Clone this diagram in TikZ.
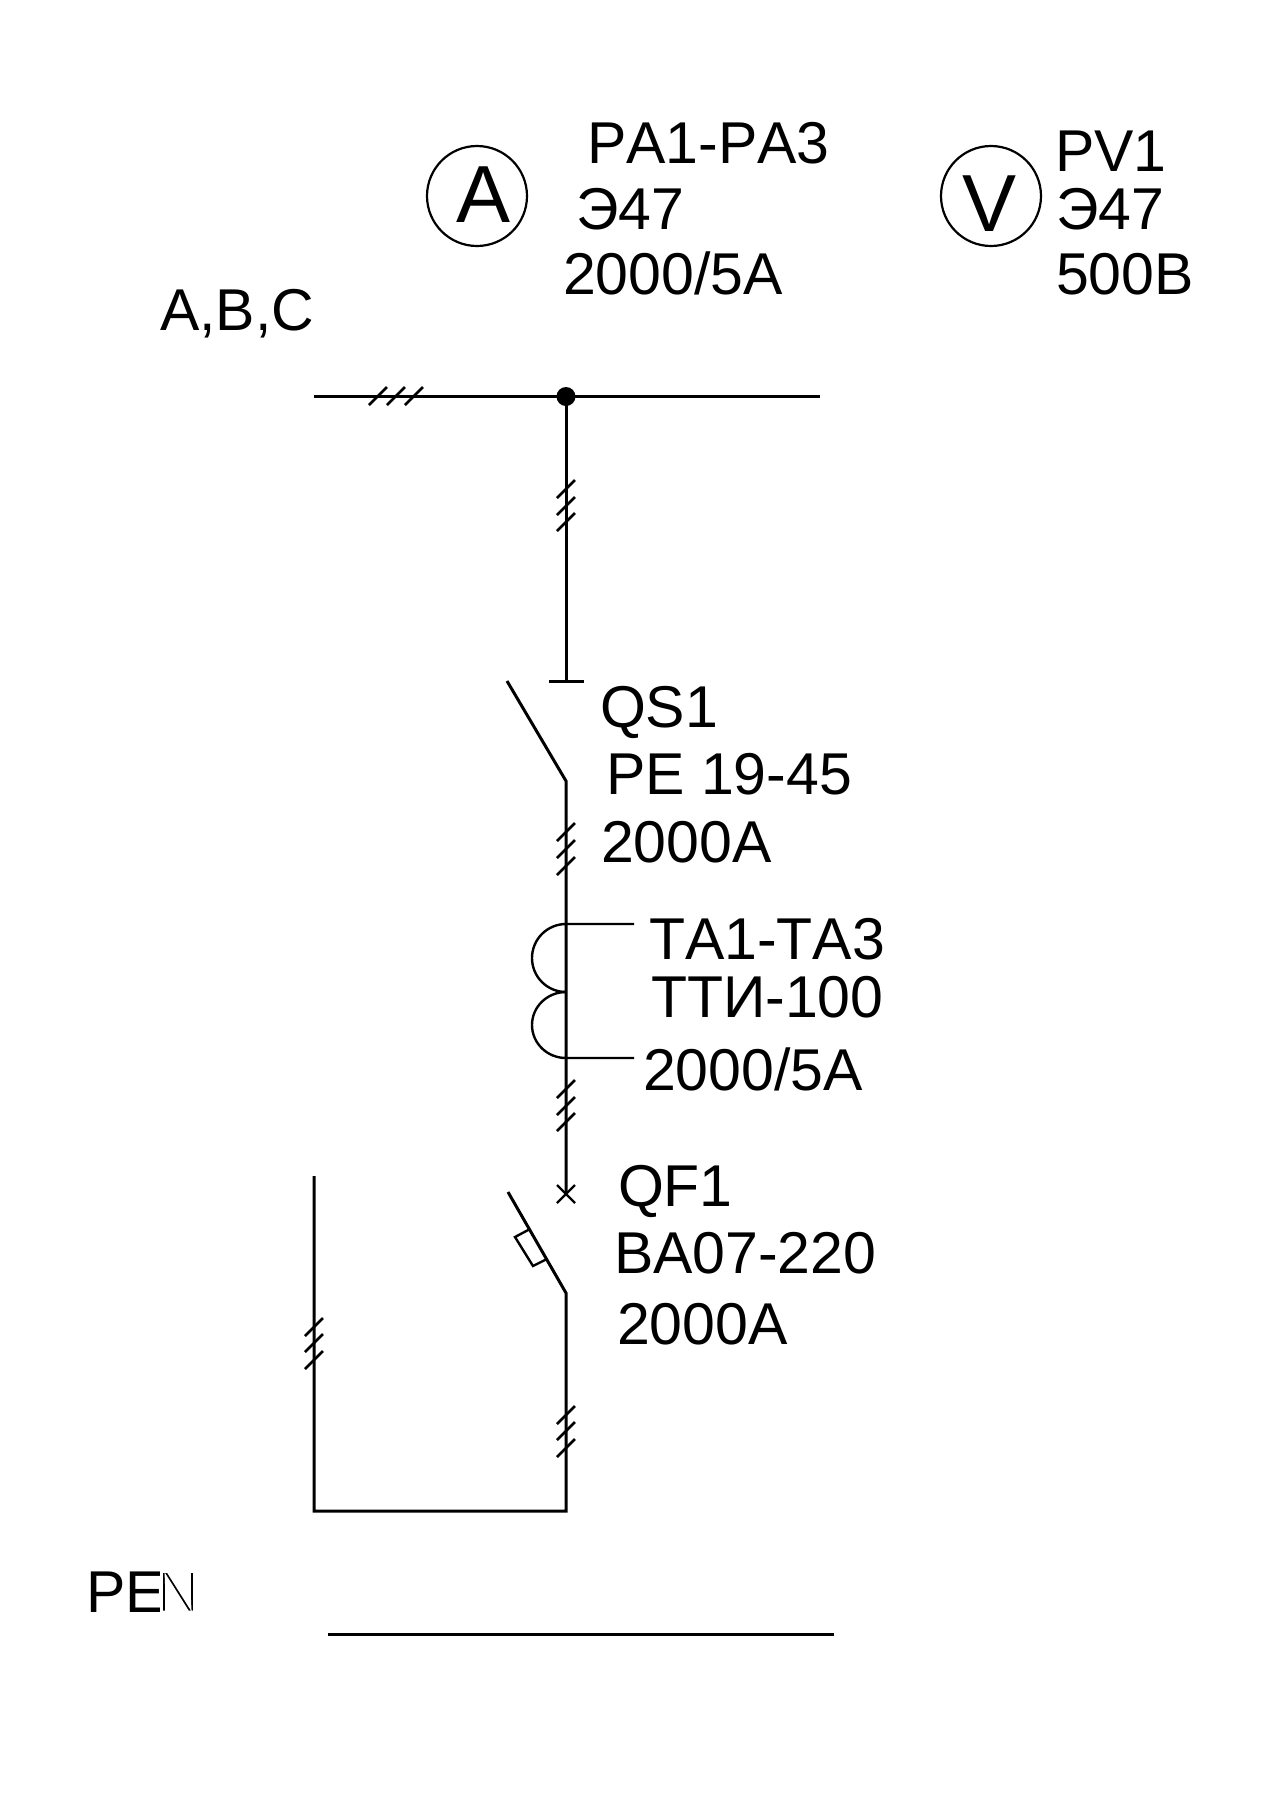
\documentclass[tikz,border=0pt]{standalone}
\usepackage{fontspec}
\setmainfont[Kerning=Off]{Liberation Sans}
\tikzset{
  wire/.style={line width=3pt,draw=black,line join=miter},
  ticks/.style={line width=2.6pt,draw=black},
  thinwire/.style={line width=2.4pt,draw=black},
  lbl/.style={anchor=base west,inner sep=0pt,outer sep=0pt,font=\fontsize{59}{59}\selectfont,text=black},
  big/.style={anchor=base,inner sep=0pt,outer sep=0pt,font=\fontsize{81}{81}\selectfont,text=black},
  meter/.style={circle,draw=black,line width=2.2pt,minimum size=100pt,inner sep=0pt,outer sep=0pt}
}
\begin{document}
\begin{tikzpicture}[x=1pt,y=-1pt]
\useasboundingbox[fill=white] (0,0) rectangle (1280,1810);
% meters
\node[meter] (mA) at (477,196) {};
\node[meter] (mV) at (991,196) {};
\node[big] (tA) at (484,222) {A};
\node[big] (tV) at (990,231) {V};
% labels
\node[lbl] (l1) at (587,163) {PA1-PA3};
\node[lbl] (l2) at (576,229) {Э47};
\node[lbl] (l3) at (563,294) {2000/5A};
\node[lbl] (l4) at (1055,171) {PV1};
\node[lbl] (l5) at (1056,229) {Э47};
\node[lbl] (l6) at (1056,294) {500В};
\node[lbl] (l7) at (160,330) {A,B,C};
\node[lbl] (l8) at (600,727) {QS1};
\node[lbl] (l9) at (606,794) {PE 19-45};
\node[lbl] (l10) at (601,862) {2000A};
\node[lbl] (l11) at (649,959) {TA1-TA3};
\node[lbl] (l12) at (651,1017) {ТТИ-100};
\node[lbl] (l13) at (643,1090) {2000/5A};
\node[lbl] (l14) at (618,1206) {QF1};
\node[lbl] (l15) at (614,1273) {BA07-220};
\node[lbl] (l16) at (617,1344) {2000A};
\node[lbl] (l17) at (86,1612) {PE\kern-8pt\special{pdf:code 2 Tr 1 1 1 RG 2.8 w}N\special{pdf:code 0 Tr 0 0 0 RG 1 w}};
% named points
\coordinate (busL) at (314,396.5);
\coordinate (busR) at (820,396.5);
\coordinate (junc) at (566,396.5);
\coordinate (qsTop) at (566,681);
\coordinate (barL) at (549,681);
\coordinate (barR) at (584,681);
\coordinate (qsBladeEnd) at (507,681);
\coordinate (qsPivot) at (566,781);
\coordinate (qfCross) at (566,1194);
\coordinate (qfBladeEnd) at (508,1192);
\coordinate (qfPivot) at (566,1293);
\coordinate (cornerR) at (566,1511);
\coordinate (cornerL) at (314,1511);
\coordinate (leftEnd) at (314,1176);
\coordinate (coilT) at (566,924);
\coordinate (coilM) at (566,992);
\coordinate (coilB) at (566,1058);
\coordinate (leadT) at (634,924);
\coordinate (leadB) at (634,1058);
\coordinate (penL) at (328,1634);
\coordinate (penR) at (834,1634);
% bus
\draw[wire] (busL) -- (busR);
\fill[black] (junc) circle (9.5pt);
\draw[wire] (junc) -- (qsTop);
\draw[wire] (barL) -- (barR);
% disconnector
\draw[wire] (qsBladeEnd) -- (qsPivot) -- (qfCross);
% CT
\draw[thinwire] (leadT) -- (coilT) arc[start angle=90,end angle=270,x radius=34,y radius=-34];
\draw[thinwire] (coilM) arc[start angle=90,end angle=270,x radius=34,y radius=-33] -- (leadB);
% breaker
\draw[thinwire] (qfCross) ++(-9,-9) -- ++(18,18);
\draw[thinwire] (qfCross) ++(-9,9) -- ++(18,-18);
\draw[wire] (qfBladeEnd) -- (qfPivot) -- (cornerR) -- (cornerL) -- (leftEnd);
\draw[thinwire] (530,1229) -- (515,1237) -- (533,1266) -- (547,1259);
\draw[wire] (penL) -- (penR);
% ticks
\foreach \px/\py in {378/396,396/396,414/396,
  566/489,566/506,566/522,
  566/832,566/849,566/866,
  566/1089,566/1106,566/1122,
  566/1415,566/1431,566/1448,
  314/1327,314/1343,314/1360}{
  \draw[ticks] (\px-9,\py+9) -- (\px+9,\py-9);
}
\end{tikzpicture}
\end{document}
